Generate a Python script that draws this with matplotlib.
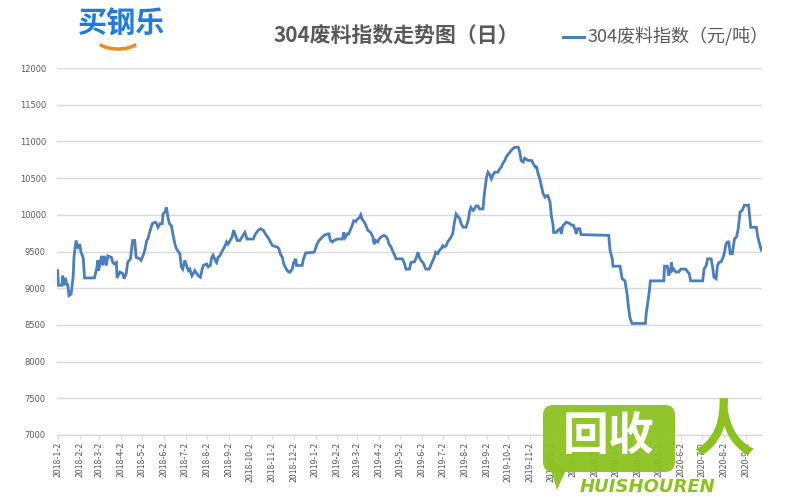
import datetime as dt

import matplotlib
matplotlib.use("Agg")
import matplotlib.dates as mdates
import matplotlib.pyplot as plt
from matplotlib.patches import Arc, FancyBboxPatch, Polygon

plt.rcParams["font.family"] = ["Noto Sans CJK SC", "DejaVu Sans"]

TITLE = "304废料指数走势图（日）"
SERIES_NAME = "304废料指数（元/吨）"
LOGO_TEXT = "买钢乐"

# (date, value)
DATES = [
    "2018-01-02", "2018-01-03", "2018-01-08", "2018-01-09", "2018-01-11", "2018-01-13",
    "2018-01-15", "2018-01-16", "2018-01-18", "2018-01-21", "2018-01-24", "2018-01-25",
    "2018-01-28", "2018-01-31", "2018-02-02", "2018-02-04", "2018-02-07", "2018-02-09",
    "2018-02-23", "2018-02-26", "2018-02-28", "2018-03-01", "2018-03-05", "2018-03-07",
    "2018-03-09", "2018-03-12", "2018-03-14", "2018-03-19", "2018-03-21", "2018-03-23",
    "2018-03-26", "2018-03-27", "2018-03-31", "2018-04-04", "2018-04-06", "2018-04-09",
    "2018-04-11", "2018-04-15", "2018-04-18", "2018-04-21", "2018-04-23", "2018-04-28",
    "2018-04-30", "2018-05-03", "2018-05-05", "2018-05-08", "2018-05-10", "2018-05-12",
    "2018-05-16", "2018-05-20", "2018-05-22", "2018-05-24", "2018-05-27", "2018-05-30",
    "2018-05-31", "2018-06-03", "2018-06-05", "2018-06-07", "2018-06-09", "2018-06-12",
    "2018-06-14", "2018-06-17", "2018-06-19", "2018-06-21", "2018-06-24", "2018-06-26",
    "2018-06-28", "2018-07-01", "2018-07-04", "2018-07-06", "2018-07-08", "2018-07-11",
    "2018-07-13", "2018-07-15", "2018-07-20", "2018-07-23", "2018-07-25", "2018-07-27",
    "2018-08-01", "2018-08-03", "2018-08-06", "2018-08-08", "2018-08-10", "2018-08-13",
    "2018-08-15", "2018-08-17", "2018-08-20", "2018-08-22", "2018-08-27", "2018-08-29",
    "2018-08-31", "2018-09-03", "2018-09-06", "2018-09-08", "2018-09-10", "2018-09-13",
    "2018-09-17", "2018-09-20", "2018-09-24", "2018-09-27", "2018-10-06", "2018-10-09",
    "2018-10-13", "2018-10-16", "2018-10-20", "2018-10-23", "2018-10-28", "2018-10-30",
    "2018-11-02", "2018-11-09", "2018-11-11", "2018-11-13", "2018-11-16", "2018-11-18",
    "2018-11-20", "2018-11-23", "2018-11-25", "2018-11-27", "2018-11-30", "2018-12-02",
    "2018-12-05", "2018-12-06", "2018-12-14", "2018-12-16", "2018-12-19", "2018-12-31",
    "2019-01-02", "2019-01-04", "2019-01-07", "2019-01-09", "2019-01-14", "2019-01-19",
    "2019-01-21", "2019-01-23", "2019-01-26", "2019-01-28", "2019-02-02", "2019-02-09",
    "2019-02-11", "2019-02-13", "2019-02-16", "2019-02-18", "2019-02-21", "2019-02-23",
    "2019-02-25", "2019-02-28", "2019-03-02", "2019-03-05", "2019-03-07", "2019-03-09",
    "2019-03-12", "2019-03-14", "2019-03-17", "2019-03-21", "2019-03-24", "2019-03-26",
    "2019-03-28", "2019-03-31", "2019-04-02", "2019-04-05", "2019-04-09", "2019-04-12",
    "2019-04-14", "2019-04-16", "2019-04-19", "2019-04-21", "2019-04-24", "2019-04-26",
    "2019-05-05", "2019-05-08", "2019-05-10", "2019-05-15", "2019-05-17", "2019-05-22",
    "2019-05-24", "2019-05-27", "2019-05-29", "2019-05-31", "2019-06-03", "2019-06-05",
    "2019-06-07", "2019-06-12", "2019-06-14", "2019-06-19", "2019-06-21", "2019-06-24",
    "2019-06-26", "2019-06-29", "2019-07-01", "2019-07-03", "2019-07-06", "2019-07-08",
    "2019-07-11", "2019-07-13", "2019-07-15", "2019-07-18", "2019-07-20", "2019-07-23",
    "2019-07-25", "2019-07-27", "2019-07-30", "2019-08-03", "2019-08-06", "2019-08-08",
    "2019-08-10", "2019-08-13", "2019-08-15", "2019-08-17", "2019-08-20", "2019-08-22",
    "2019-08-27", "2019-08-29", "2019-09-01", "2019-09-03", "2019-09-06", "2019-09-08",
    "2019-09-11", "2019-09-13", "2019-09-17", "2019-09-20", "2019-09-22", "2019-09-24",
    "2019-09-27", "2019-09-29", "2019-10-02", "2019-10-04", "2019-10-06", "2019-10-11",
    "2019-10-16", "2019-10-18", "2019-10-20", "2019-10-23", "2019-10-25", "2019-10-30",
    "2019-11-04", "2019-11-06", "2019-11-09", "2019-11-11", "2019-11-13", "2019-11-16",
    "2019-11-18", "2019-11-20", "2019-11-23", "2019-11-25", "2019-11-27", "2019-11-30",
    "2019-12-02", "2019-12-04", "2019-12-05", "2019-12-09", "2019-12-11", "2019-12-14",
    "2019-12-16", "2019-12-18", "2019-12-23", "2019-12-28", "2019-12-30", "2020-01-02",
    "2020-01-04", "2020-01-06", "2020-01-08", "2020-01-11", "2020-01-13", "2020-02-21",
    "2020-02-23", "2020-02-26", "2020-02-27", "2020-03-08", "2020-03-11", "2020-03-15",
    "2020-03-18", "2020-03-20", "2020-03-22", "2020-03-25", "2020-04-13", "2020-04-14",
    "2020-04-18", "2020-04-20", "2020-05-09", "2020-05-10", "2020-05-14", "2020-05-16",
    "2020-05-19", "2020-05-20", "2020-05-21", "2020-05-23", "2020-05-26", "2020-05-30",
    "2020-06-02", "2020-06-09", "2020-06-12", "2020-06-14", "2020-06-16", "2020-07-03",
    "2020-07-05", "2020-07-08", "2020-07-10", "2020-07-15", "2020-07-17", "2020-07-19",
    "2020-07-22", "2020-07-24", "2020-07-26", "2020-07-29", "2020-07-31", "2020-08-02",
    "2020-08-05", "2020-08-07", "2020-08-09", "2020-08-11", "2020-08-14", "2020-08-17",
    "2020-08-20", "2020-08-22", "2020-08-25", "2020-08-28", "2020-08-31", "2020-09-06",
    "2020-09-09", "2020-09-17", "2020-09-19", "2020-09-21", "2020-09-24",
]
VALUES = [
    9240, 9040, 9040, 9170, 9040, 9140,
    9040, 9060, 8900, 8920, 9170, 9420,
    9650, 9540, 9600, 9490, 9420, 9140,
    9140, 9260, 9380, 9240, 9440, 9310,
    9440, 9310, 9440, 9420, 9350, 9330,
    9350, 9140, 9220, 9200, 9130, 9200,
    9350, 9400, 9650, 9650, 9420, 9400,
    9380, 9450, 9510, 9650, 9680, 9760,
    9880, 9900, 9880, 9830, 9880, 9880,
    10010, 10040, 10100, 9970, 9880, 9850,
    9740, 9600, 9540, 9510, 9470, 9290,
    9260, 9380, 9290, 9240, 9260, 9170,
    9200, 9240, 9170, 9150, 9240, 9310,
    9330, 9290, 9310, 9420, 9450, 9380,
    9350, 9420, 9450, 9490, 9580, 9630,
    9600, 9650, 9700, 9790, 9740, 9650,
    9650, 9700, 9760, 9670, 9670, 9740,
    9790, 9810, 9790, 9740, 9670, 9630,
    9580, 9560, 9540, 9470, 9420, 9330,
    9290, 9240, 9220, 9220, 9260, 9350,
    9400, 9310, 9310, 9400, 9480, 9490,
    9540, 9600, 9650, 9670, 9720, 9740,
    9740, 9650, 9630, 9650, 9670, 9670,
    9760, 9690, 9740, 9740, 9810, 9860,
    9920, 9910, 9940, 9960, 10000, 9940,
    9900, 9860, 9790, 9760, 9700, 9600,
    9650, 9630, 9670, 9700, 9720, 9700,
    9670, 9600, 9560, 9510, 9450, 9400,
    9400, 9330, 9260, 9260, 9350, 9360,
    9400, 9490, 9420, 9380, 9350, 9310,
    9260, 9260, 9310, 9420, 9490, 9470,
    9510, 9540, 9580, 9560, 9580, 9630,
    9670, 9700, 9740, 9920, 10010, 9970,
    9950, 9880, 9830, 9830, 9920, 10040,
    10100, 10060, 10080, 10120, 10120, 10080,
    10080, 10290, 10510, 10580, 10540, 10490,
    10560, 10580, 10580, 10630, 10650, 10700,
    10740, 10790, 10830, 10850, 10880, 10920,
    10920, 10860, 10740, 10720, 10770, 10740,
    10740, 10700, 10650, 10650, 10560, 10470,
    10380, 10290, 10240, 10260, 10260, 10170,
    9970, 9880, 9760, 9760, 9790, 9810,
    9740, 9850, 9900, 9880, 9860, 9860,
    9810, 9740, 9810, 9810, 9730, 9720,
    9510, 9400, 9300, 9300, 9130, 9100,
    8920, 8740, 8600, 8520, 8520, 8650,
    8920, 9100, 9100, 9300, 9300, 9170,
    9280, 9350, 9240, 9260, 9220, 9220,
    9260, 9260, 9220, 9200, 9100, 9100,
    9260, 9310, 9400, 9400, 9290, 9150,
    9130, 9310, 9350, 9360, 9400, 9450,
    9600, 9630, 9630, 9470, 9470, 9670,
    9700, 9790, 10040, 10060, 10130, 10130,
    9830, 9830, 9700, 9630, 9520,
]

Y_TICKS = [7000, 7500, 8000, 8500, 9000, 9500, 10000, 10500, 11000, 11500, 12000]

LINE_COLOR = "#4a7ebf"
GRID_COLOR = "#d9d9d9"
TEXT_COLOR = "#595959"
GREEN = "#8cc21f"


def _date_label(x, _pos) -> str:
    d = mdates.num2date(x)
    return f"{d.year}-{d.month}-{d.day}"


def main() -> None:
    dates = [dt.datetime.strptime(d, "%Y-%m-%d") for d in DATES]

    fig = plt.figure(figsize=(8, 5), dpi=100)
    ax = fig.add_axes([57 / 800, 1 - 435 / 500, (762 - 57) / 800, (435 - 68) / 500])

    ax.plot(dates, VALUES, color=LINE_COLOR, linewidth=2.0, solid_joinstyle="miter")

    ax.set_ylim(7000, 12000)
    ax.set_yticks(Y_TICKS)
    ax.set_xlim(dt.datetime(2018, 1, 1), dt.datetime(2020, 9, 25))

    ax.xaxis.set_major_locator(mdates.MonthLocator(bymonthday=2))
    ax.xaxis.set_major_formatter(plt.FuncFormatter(_date_label))

    ax.grid(axis="y", color=GRID_COLOR, linewidth=1.0)
    ax.set_axisbelow(True)
    for side in ("top", "right", "left"):
        ax.spines[side].set_visible(False)
    ax.spines["bottom"].set_color(GRID_COLOR)
    ax.spines["bottom"].set_linewidth(1.0)

    ax.tick_params(axis="y", length=0, labelsize=6, labelcolor=TEXT_COLOR, pad=8)
    ax.tick_params(axis="x", length=3, color=GRID_COLOR, labelsize=6.3,
                   labelcolor=TEXT_COLOR, labelrotation=90, pad=2)
    for lbl in ax.get_yticklabels():
        lbl.set_fontfamily("DejaVu Sans")

    fig.text(396 / 800, 1 - 35 / 500, TITLE, ha="center", va="center",
             fontsize=15, fontweight="bold", color=TEXT_COLOR)

    # overlay in pixel coordinates for legend line, logo and watermark
    ov = fig.add_axes([0, 0, 1, 1], facecolor="none")
    ov.set_xlim(0, 800)
    ov.set_ylim(500, 0)
    ov.axis("off")

    ov.plot([563, 584], [37, 37], color=LINE_COLOR, linewidth=2.2)
    ov.text(587, 37, SERIES_NAME, ha="left", va="center", fontsize=13, color=TEXT_COLOR)

    # logo
    ov.text(122, 24, LOGO_TEXT, ha="center", va="center", fontsize=21,
            fontweight="bold", color="#1f7bdc")
    ov.add_patch(Arc((118, 36), 48, 26, theta1=25, theta2=155,
                     color="#f08a1c", linewidth=2.5))

    # watermark
    ov.add_patch(FancyBboxPatch((543, 405), 132, 67, boxstyle="round,pad=0,rounding_size=10",
                                facecolor=GREEN, edgecolor="none", alpha=0.95, zorder=5))
    ov.add_patch(Polygon([[546, 455], [566, 470], [557, 490]], closed=True,
                         facecolor=GREEN, edgecolor="none", alpha=0.95, zorder=5))
    ov.text(609, 437, "回收", ha="center", va="center", fontsize=33,
            fontweight="bold", color="white", zorder=6)
    ov.text(724, 433, "人", ha="center", va="center", fontsize=44,
            fontweight="bold", color=GREEN, zorder=6)
    ov.text(648, 487, "HUISHOUREN", ha="center", va="center", fontsize=13,
            fontweight="bold", style="italic", color=GREEN, zorder=6,
            family="DejaVu Sans")

    fig.savefig("out.png", dpi=100)
    plt.close(fig)


if __name__ == "__main__":
    main()
